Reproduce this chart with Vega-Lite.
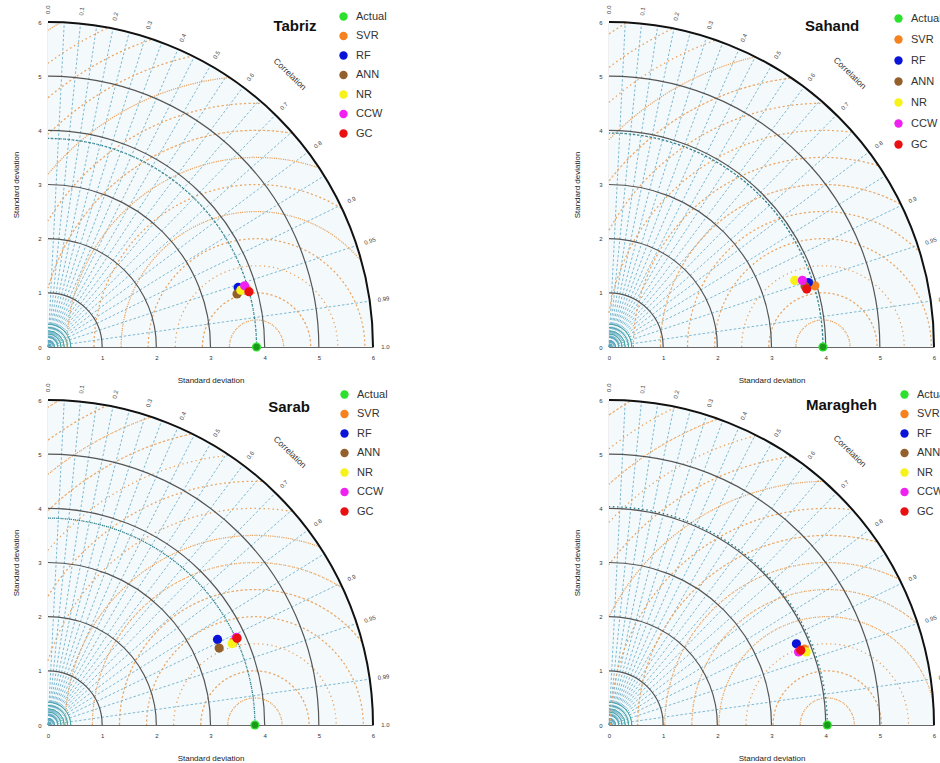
{
"$schema": "https://vega.github.io/schema/vega-lite/v6.json",
"background": "white",
"padding": {"left": 12, "top": 5, "right": 0, "bottom": 0},
"columns": 2,
"spacing": {"row": 53, "column": 236},
"bounds": "flush",
"resolve": {"scale": {"color": "independent"}, "legend": {"color": "independent"}},
"datasets": {
"origin6": [{"cx":0,"cy":0,"r":6}],
"sdArcs": [{"cx":0,"cy":0,"r":1},{"cx":0,"cy":0,"r":2},{"cx":0,"cy":0,"r":3},{"cx":0,"cy":0,"r":4},{"cx":0,"cy":0,"r":5}],
"tealArcs": [{"cx":0,"cy":0,"r":0.06},{"cx":0,"cy":0,"r":0.12},{"cx":0,"cy":0,"r":0.18},{"cx":0,"cy":0,"r":0.24},{"cx":0,"cy":0,"r":0.3},{"cx":0,"cy":0,"r":0.36},{"cx":0,"cy":0,"r":0.42}],
"rays": [
{"x1":0,"y1":0,"x2":0.3,"y2":5.9925},{"x1":0,"y1":0,"x2":0.6,"y2":5.9699},{"x1":0,"y1":0,"x2":0.9,"y2":5.9321},{"x1":0,"y1":0,"x2":1.2,"y2":5.8788},
{"x1":0,"y1":0,"x2":1.5,"y2":5.8095},{"x1":0,"y1":0,"x2":1.8,"y2":5.7236},{"x1":0,"y1":0,"x2":2.1,"y2":5.6205},{"x1":0,"y1":0,"x2":2.4,"y2":5.4991},
{"x1":0,"y1":0,"x2":2.7,"y2":5.3582},{"x1":0,"y1":0,"x2":3.0,"y2":5.1962},{"x1":0,"y1":0,"x2":3.3,"y2":5.011},{"x1":0,"y1":0,"x2":3.6,"y2":4.8},
{"x1":0,"y1":0,"x2":3.9,"y2":4.5596},{"x1":0,"y1":0,"x2":4.2,"y2":4.2849},{"x1":0,"y1":0,"x2":4.5,"y2":3.9686},{"x1":0,"y1":0,"x2":4.8,"y2":3.6},
{"x1":0,"y1":0,"x2":5.1,"y2":3.1607},{"x1":0,"y1":0,"x2":5.4,"y2":2.6153},{"x1":0,"y1":0,"x2":5.7,"y2":1.8735},{"x1":0,"y1":0,"x2":5.94,"y2":0.8464}
],
"corrLabels": [
{"label":"0.0","x":0,"y":6.15,"phi":90},{"label":"0.1","x":0.615,"y":6.1192,"phi":84.26},{"label":"0.2","x":1.23,"y":6.0258,"phi":78.46},
{"label":"0.3","x":1.845,"y":5.8667,"phi":72.54},{"label":"0.4","x":2.46,"y":5.6366,"phi":66.42},{"label":"0.5","x":3.075,"y":5.3261,"phi":60},
{"label":"0.6","x":3.69,"y":4.92,"phi":53.13},{"label":"0.7","x":4.305,"y":4.392,"phi":45.57},{"label":"0.8","x":4.92,"y":3.69,"phi":36.87},
{"label":"0.9","x":5.535,"y":2.6807,"phi":25.84},{"label":"0.95","x":5.8425,"y":1.9203,"phi":18.19},{"label":"0.99","x":6.0885,"y":0.8676,"phi":8.11},
{"label":"1.0","x":6.15,"y":0,"phi":0}
],
"refArcs": [
{"station":"Tabriz","cx":0,"cy":0,"r":3.85},{"station":"Sahand","cx":0,"cy":0,"r":3.95},
{"station":"Sarab","cx":0,"cy":0,"r":3.82},{"station":"Maragheh","cx":0,"cy":0,"r":4.03}
],
"annot": [
{"station":"Tabriz","kind":"title","t":"Tabriz","x":4.56,"y":5.92},
{"station":"Sahand","kind":"title","t":"Sahand","x":4.12,"y":5.93},
{"station":"Sarab","kind":"title","t":"Sarab","x":4.45,"y":5.87},
{"station":"Maragheh","kind":"title","t":"Maragheh","x":4.29,"y":5.91},
{"station":"Tabriz","kind":"corr","t":"Correlation","x":4.47,"y":5.04},
{"station":"Sahand","kind":"corr","t":"Correlation","x":4.45,"y":5.06},
{"station":"Sarab","kind":"corr","t":"Correlation","x":4.47,"y":5.04},
{"station":"Maragheh","kind":"corr","t":"Correlation","x":4.45,"y":5.06}
],
"rms": [
{"station":"Tabriz","cx":3.85,"cy":0,"r":0.5,"t1":-90,"t2":90},{"station":"Tabriz","cx":3.85,"cy":0,"r":1,"t1":-90,"t2":90},
{"station":"Tabriz","cx":3.85,"cy":0,"r":1.5,"t1":-90,"t2":90},{"station":"Tabriz","cx":3.85,"cy":0,"r":2,"t1":-90,"t2":90},
{"station":"Tabriz","cx":3.85,"cy":0,"r":2.5,"t1":-90,"t2":50.86},{"station":"Tabriz","cx":3.85,"cy":0,"r":3,"t1":-90,"t2":31.81},
{"station":"Tabriz","cx":3.85,"cy":0,"r":3.5,"t1":-90,"t2":19.35},{"station":"Tabriz","cx":3.85,"cy":0,"r":4,"t1":-74.22,"t2":9.68},
{"station":"Tabriz","cx":3.85,"cy":0,"r":4.5,"t1":-58.83,"t2":1.53},{"station":"Tabriz","cx":3.85,"cy":0,"r":5,"t1":-50.35,"t2":-5.7},
{"station":"Tabriz","cx":3.85,"cy":0,"r":5.5,"t1":-44.43,"t2":-12.37},{"station":"Tabriz","cx":3.85,"cy":0,"r":6,"t1":-39.92,"t2":-18.71},
{"station":"Tabriz","cx":3.85,"cy":0,"r":6.5,"t1":-36.32,"t2":-24.9},{"station":"Tabriz","cx":3.85,"cy":0,"r":7,"t1":-33.37,"t2":-31.08},
{"station":"Sahand","cx":3.95,"cy":0,"r":0.5,"t1":-90,"t2":90},{"station":"Sahand","cx":3.95,"cy":0,"r":1,"t1":-90,"t2":90},
{"station":"Sahand","cx":3.95,"cy":0,"r":1.5,"t1":-90,"t2":90},{"station":"Sahand","cx":3.95,"cy":0,"r":2,"t1":-90,"t2":90},
{"station":"Sahand","cx":3.95,"cy":0,"r":2.5,"t1":-90,"t2":45.75},{"station":"Sahand","cx":3.95,"cy":0,"r":3,"t1":-90,"t2":28.74},
{"station":"Sahand","cx":3.95,"cy":0,"r":3.5,"t1":-90,"t2":17.14},{"station":"Sahand","cx":3.95,"cy":0,"r":4,"t1":-80.93,"t2":8.0},
{"station":"Sahand","cx":3.95,"cy":0,"r":4.5,"t1":-61.37,"t2":0.24},{"station":"Sahand","cx":3.95,"cy":0,"r":5,"t1":-52.19,"t2":-6.69},
{"station":"Sahand","cx":3.95,"cy":0,"r":5.5,"t1":-45.9,"t2":-13.11},{"station":"Sahand","cx":3.95,"cy":0,"r":6,"t1":-41.17,"t2":-19.22},
{"station":"Sahand","cx":3.95,"cy":0,"r":6.5,"t1":-37.42,"t2":-25.19},{"station":"Sahand","cx":3.95,"cy":0,"r":7,"t1":-34.35,"t2":-31.14},
{"station":"Sarab","cx":3.82,"cy":0,"r":0.5,"t1":-90,"t2":90},{"station":"Sarab","cx":3.82,"cy":0,"r":1,"t1":-90,"t2":90},
{"station":"Sarab","cx":3.82,"cy":0,"r":1.5,"t1":-90,"t2":90},{"station":"Sarab","cx":3.82,"cy":0,"r":2,"t1":-90,"t2":90},
{"station":"Sarab","cx":3.82,"cy":0,"r":2.5,"t1":-90,"t2":52.52},{"station":"Sarab","cx":3.82,"cy":0,"r":3,"t1":-90,"t2":32.77},
{"station":"Sarab","cx":3.82,"cy":0,"r":3.5,"t1":-90,"t2":20.03},{"station":"Sarab","cx":3.82,"cy":0,"r":4,"t1":-72.75,"t2":10.19},
{"station":"Sarab","cx":3.82,"cy":0,"r":4.5,"t1":-58.09,"t2":1.93},{"station":"Sarab","cx":3.82,"cy":0,"r":5,"t1":-49.82,"t2":-5.4},
{"station":"Sarab","cx":3.82,"cy":0,"r":5.5,"t1":-43.99,"t2":-12.15},{"station":"Sarab","cx":3.82,"cy":0,"r":6,"t1":-39.54,"t2":-18.56},
{"station":"Sarab","cx":3.82,"cy":0,"r":6.5,"t1":-35.99,"t2":-24.82},{"station":"Sarab","cx":3.82,"cy":0,"r":7,"t1":-33.07,"t2":-31.06},
{"station":"Maragheh","cx":4.03,"cy":0,"r":0.5,"t1":-90,"t2":90},{"station":"Maragheh","cx":4.03,"cy":0,"r":1,"t1":-90,"t2":90},
{"station":"Maragheh","cx":4.03,"cy":0,"r":1.5,"t1":-90,"t2":90},{"station":"Maragheh","cx":4.03,"cy":0,"r":2,"t1":-90,"t2":77.85},
{"station":"Maragheh","cx":4.03,"cy":0,"r":2.5,"t1":-90,"t2":42.1},{"station":"Maragheh","cx":4.03,"cy":0,"r":3,"t1":-90,"t2":26.42},
{"station":"Maragheh","cx":4.03,"cy":0,"r":3.5,"t1":-90,"t2":15.44},{"station":"Maragheh","cx":4.03,"cy":0,"r":4,"t1":-90,"t2":6.7},
{"station":"Maragheh","cx":4.03,"cy":0,"r":4.5,"t1":-63.59,"t2":-0.78},{"station":"Maragheh","cx":4.03,"cy":0,"r":5,"t1":-53.71,"t2":-7.47},
{"station":"Maragheh","cx":4.03,"cy":0,"r":5.5,"t1":-47.12,"t2":-13.69},{"station":"Maragheh","cx":4.03,"cy":0,"r":6,"t1":-42.2,"t2":-19.62},
{"station":"Maragheh","cx":4.03,"cy":0,"r":6.5,"t1":-38.32,"t2":-25.42},{"station":"Maragheh","cx":4.03,"cy":0,"r":7,"t1":-35.15,"t2":-31.22}
],
"pts": [
{"station":"Tabriz","model":"Actual","x":3.85,"y":0},
{"station":"Tabriz","model":"SVR","x":3.67,"y":1.07},
{"station":"Tabriz","model":"RF","x":3.51,"y":1.1},
{"station":"Tabriz","model":"ANN","x":3.49,"y":0.98},
{"station":"Tabriz","model":"NR","x":3.56,"y":1.05},
{"station":"Tabriz","model":"CCW","x":3.63,"y":1.13},
{"station":"Tabriz","model":"GC","x":3.71,"y":1.02},
{"station":"Sahand","model":"Actual","x":3.95,"y":0},
{"station":"Sahand","model":"SVR","x":3.8,"y":1.13},
{"station":"Sahand","model":"RF","x":3.68,"y":1.19},
{"station":"Sahand","model":"ANN","x":3.62,"y":1.12},
{"station":"Sahand","model":"NR","x":3.43,"y":1.23},
{"station":"Sahand","model":"CCW","x":3.57,"y":1.23},
{"station":"Sahand","model":"GC","x":3.65,"y":1.07},
{"station":"Sarab","model":"Actual","x":3.82,"y":0},
{"station":"Sarab","model":"SVR","x":3.43,"y":1.54},
{"station":"Sarab","model":"RF","x":3.13,"y":1.58},
{"station":"Sarab","model":"ANN","x":3.16,"y":1.42},
{"station":"Sarab","model":"NR","x":3.4,"y":1.5},
{"station":"Sarab","model":"CCW","x":3.48,"y":1.62},
{"station":"Sarab","model":"GC","x":3.49,"y":1.6},
{"station":"Maragheh","model":"Actual","x":4.03,"y":0},
{"station":"Maragheh","model":"SVR","x":3.61,"y":1.4},
{"station":"Maragheh","model":"RF","x":3.46,"y":1.5},
{"station":"Maragheh","model":"ANN","x":3.55,"y":1.38},
{"station":"Maragheh","model":"NR","x":3.64,"y":1.35},
{"station":"Maragheh","model":"CCW","x":3.5,"y":1.35},
{"station":"Maragheh","model":"GC","x":3.54,"y":1.38}
]
},
"concat": [
{
"width": 325, "height": 325,
"layer": [
{"data":{"name":"origin6"},"mark":{"type":"arc","theta":0,"theta2":1.5707963,"fill":"#f4fafc","strokeWidth":0},
 "encoding":{"x":{"field":"cx","type":"quantitative","title":"Standard deviation","scale":{"domain":[0,6],"nice":false,"zero":true},"axis":{"values":[0,1,2,3,4,5,6],"format":"d"}},
 "y":{"field":"cy","type":"quantitative","title":"Standard deviation","scale":{"domain":[0,6],"nice":false,"zero":true},"axis":{"values":[0,1,2,3,4,5,6],"format":"d"}},
 "radius":{"field":"r","type":"quantitative","stack":null,"scale":{"type":"linear","domain":[0,6],"range":[0,325],"nice":false,"zero":true}}}},
{"data":{"name":"tealArcs"},"mark":{"type":"arc","theta":0,"theta2":1.5707963,"fill":"transparent","stroke":"#3aa39c","strokeWidth":0.8},
 "encoding":{"x":{"field":"cx","type":"quantitative","title":"Standard deviation"},"y":{"field":"cy","type":"quantitative","title":"Standard deviation"},"radius":{"field":"r","type":"quantitative","stack":null},"radius2":{"field":"r"}}},
{"data":{"name":"rays"},"mark":{"type":"rule","stroke":"#5ea6c4","strokeWidth":0.8,"strokeDash":[2.5,2]},
 "encoding":{"x":{"field":"x1","type":"quantitative","title":"Standard deviation"},"y":{"field":"y1","type":"quantitative","title":"Standard deviation"},"x2":{"field":"x2"},"y2":{"field":"y2"}}},
{"data":{"name":"rms"},"transform":[{"filter":"datum.station === 'Tabriz'"}],"mark":{"type":"arc","fill":"transparent","stroke":"#e9a462","strokeWidth":1.25,"strokeDash":[1.2,3.3]},
 "encoding":{"x":{"field":"cx","type":"quantitative","title":"Standard deviation"},"y":{"field":"cy","type":"quantitative","title":"Standard deviation"},"radius":{"field":"r","type":"quantitative","stack":null},"radius2":{"field":"r"},
 "theta":{"field":"t1","type":"quantitative","stack":null,"scale":{"type":"linear","domain":[0,360],"range":[0,6.283185307]}},"theta2":{"field":"t2"}}},
{"data":{"name":"sdArcs"},"mark":{"type":"arc","theta":0,"theta2":1.5707963,"fill":"transparent","stroke":"#555555","strokeWidth":1.2},
 "encoding":{"x":{"field":"cx","type":"quantitative","title":"Standard deviation"},"y":{"field":"cy","type":"quantitative","title":"Standard deviation"},"radius":{"field":"r","type":"quantitative","stack":null},"radius2":{"field":"r"}}},
{"data":{"name":"refArcs"},"transform":[{"filter":"datum.station === 'Tabriz'"}],"mark":{"type":"arc","theta":0,"theta2":1.5707963,"fill":"transparent","stroke":"#2a7d8a","strokeWidth":1.3,"strokeDash":[1.2,3]},
 "encoding":{"x":{"field":"cx","type":"quantitative","title":"Standard deviation"},"y":{"field":"cy","type":"quantitative","title":"Standard deviation"},"radius":{"field":"r","type":"quantitative","stack":null},"radius2":{"field":"r"}}},
{"data":{"name":"origin6"},"mark":{"type":"arc","theta":0,"theta2":1.5707963,"fill":"transparent","stroke":"#111111","strokeWidth":2},
 "encoding":{"x":{"field":"cx","type":"quantitative","title":"Standard deviation"},"y":{"field":"cy","type":"quantitative","title":"Standard deviation"},"radius":{"field":"r","type":"quantitative","stack":null},"radius2":{"field":"r"}}},
{"data":{"name":"corrLabels"},"mark":{"type":"text","align":"left","baseline":"middle","fontSize":6,"color":"#444444"},
 "encoding":{"x":{"field":"x","type":"quantitative","title":"Standard deviation"},"y":{"field":"y","type":"quantitative","title":"Standard deviation"},"text":{"field":"label","type":"nominal"},
 "angle":{"field":"phi","type":"quantitative","scale":{"type":"linear","domain":[0,90],"range":[0,-90]},"legend":null}}},
{"data":{"name":"annot"},"transform":[{"filter":"datum.station === 'Tabriz' && datum.kind === 'corr'"}],"mark":{"type":"text","angle":44,"fontSize":8.5,"color":"#333333"},
 "encoding":{"x":{"field":"x","type":"quantitative","title":"Standard deviation"},"y":{"field":"y","type":"quantitative","title":"Standard deviation"},"text":{"field":"t","type":"nominal"}}},
{"data":{"name":"annot"},"transform":[{"filter":"datum.station === 'Tabriz' && datum.kind === 'title'"}],"mark":{"type":"text","fontSize":15,"fontWeight":"bold","color":"#111111"},
 "encoding":{"x":{"field":"x","type":"quantitative","title":"Standard deviation"},"y":{"field":"y","type":"quantitative","title":"Standard deviation"},"text":{"field":"t","type":"nominal"}}},
{"data":{"name":"pts"},"transform":[{"filter":"datum.station === 'Tabriz'"}],"mark":{"type":"point","filled":true,"opacity":1,"size":85},
 "encoding":{"x":{"field":"x","type":"quantitative","title":"Standard deviation"},"y":{"field":"y","type":"quantitative","title":"Standard deviation"},
 "color":{"field":"model","type":"nominal","scale":{"domain":["Actual","SVR","RF","ANN","NR","CCW","GC"],"range":["#2ee02e","#f5821f","#0a14d8","#93602b","#f6f21a","#f020f0","#e81010"]},
 "legend":{"orient":"none","legendX":290,"legendY":-11,"title":null,"rowPadding":7.5}}}},
{"data":{"name":"pts"},"transform":[{"filter":"datum.station === 'Tabriz' && datum.model === 'Actual'"}],"mark":{"type":"point","filled":true,"opacity":1,"size":40,"color":"#1b991b"},
 "encoding":{"x":{"field":"x","type":"quantitative","title":"Standard deviation"},"y":{"field":"y","type":"quantitative","title":"Standard deviation"}}}
]
},
{
"width": 325, "height": 325,
"layer": [
{"data":{"name":"origin6"},"mark":{"type":"arc","theta":0,"theta2":1.5707963,"fill":"#f4fafc","strokeWidth":0},
 "encoding":{"x":{"field":"cx","type":"quantitative","title":"Standard deviation","scale":{"domain":[0,6],"nice":false,"zero":true},"axis":{"values":[0,1,2,3,4,5,6],"format":"d"}},
 "y":{"field":"cy","type":"quantitative","title":"Standard deviation","scale":{"domain":[0,6],"nice":false,"zero":true},"axis":{"values":[0,1,2,3,4,5,6],"format":"d"}},
 "radius":{"field":"r","type":"quantitative","stack":null,"scale":{"type":"linear","domain":[0,6],"range":[0,325],"nice":false,"zero":true}}}},
{"data":{"name":"tealArcs"},"mark":{"type":"arc","theta":0,"theta2":1.5707963,"fill":"transparent","stroke":"#3aa39c","strokeWidth":0.8},
 "encoding":{"x":{"field":"cx","type":"quantitative","title":"Standard deviation"},"y":{"field":"cy","type":"quantitative","title":"Standard deviation"},"radius":{"field":"r","type":"quantitative","stack":null},"radius2":{"field":"r"}}},
{"data":{"name":"rays"},"mark":{"type":"rule","stroke":"#5ea6c4","strokeWidth":0.8,"strokeDash":[2.5,2]},
 "encoding":{"x":{"field":"x1","type":"quantitative","title":"Standard deviation"},"y":{"field":"y1","type":"quantitative","title":"Standard deviation"},"x2":{"field":"x2"},"y2":{"field":"y2"}}},
{"data":{"name":"rms"},"transform":[{"filter":"datum.station === 'Sahand'"}],"mark":{"type":"arc","fill":"transparent","stroke":"#e9a462","strokeWidth":1.25,"strokeDash":[1.2,3.3]},
 "encoding":{"x":{"field":"cx","type":"quantitative","title":"Standard deviation"},"y":{"field":"cy","type":"quantitative","title":"Standard deviation"},"radius":{"field":"r","type":"quantitative","stack":null},"radius2":{"field":"r"},
 "theta":{"field":"t1","type":"quantitative","stack":null,"scale":{"type":"linear","domain":[0,360],"range":[0,6.283185307]}},"theta2":{"field":"t2"}}},
{"data":{"name":"sdArcs"},"mark":{"type":"arc","theta":0,"theta2":1.5707963,"fill":"transparent","stroke":"#555555","strokeWidth":1.2},
 "encoding":{"x":{"field":"cx","type":"quantitative","title":"Standard deviation"},"y":{"field":"cy","type":"quantitative","title":"Standard deviation"},"radius":{"field":"r","type":"quantitative","stack":null},"radius2":{"field":"r"}}},
{"data":{"name":"refArcs"},"transform":[{"filter":"datum.station === 'Sahand'"}],"mark":{"type":"arc","theta":0,"theta2":1.5707963,"fill":"transparent","stroke":"#2a7d8a","strokeWidth":1.3,"strokeDash":[1.2,3]},
 "encoding":{"x":{"field":"cx","type":"quantitative","title":"Standard deviation"},"y":{"field":"cy","type":"quantitative","title":"Standard deviation"},"radius":{"field":"r","type":"quantitative","stack":null},"radius2":{"field":"r"}}},
{"data":{"name":"origin6"},"mark":{"type":"arc","theta":0,"theta2":1.5707963,"fill":"transparent","stroke":"#111111","strokeWidth":2},
 "encoding":{"x":{"field":"cx","type":"quantitative","title":"Standard deviation"},"y":{"field":"cy","type":"quantitative","title":"Standard deviation"},"radius":{"field":"r","type":"quantitative","stack":null},"radius2":{"field":"r"}}},
{"data":{"name":"corrLabels"},"mark":{"type":"text","align":"left","baseline":"middle","fontSize":6,"color":"#444444"},
 "encoding":{"x":{"field":"x","type":"quantitative","title":"Standard deviation"},"y":{"field":"y","type":"quantitative","title":"Standard deviation"},"text":{"field":"label","type":"nominal"},
 "angle":{"field":"phi","type":"quantitative","scale":{"type":"linear","domain":[0,90],"range":[0,-90]},"legend":null}}},
{"data":{"name":"annot"},"transform":[{"filter":"datum.station === 'Sahand' && datum.kind === 'corr'"}],"mark":{"type":"text","angle":44,"fontSize":8.5,"color":"#333333"},
 "encoding":{"x":{"field":"x","type":"quantitative","title":"Standard deviation"},"y":{"field":"y","type":"quantitative","title":"Standard deviation"},"text":{"field":"t","type":"nominal"}}},
{"data":{"name":"annot"},"transform":[{"filter":"datum.station === 'Sahand' && datum.kind === 'title'"}],"mark":{"type":"text","fontSize":15,"fontWeight":"bold","color":"#111111"},
 "encoding":{"x":{"field":"x","type":"quantitative","title":"Standard deviation"},"y":{"field":"y","type":"quantitative","title":"Standard deviation"},"text":{"field":"t","type":"nominal"}}},
{"data":{"name":"pts"},"transform":[{"filter":"datum.station === 'Sahand'"}],"mark":{"type":"point","filled":true,"opacity":1,"size":85},
 "encoding":{"x":{"field":"x","type":"quantitative","title":"Standard deviation"},"y":{"field":"y","type":"quantitative","title":"Standard deviation"},
 "color":{"field":"model","type":"nominal","scale":{"domain":["Actual","SVR","RF","ANN","NR","CCW","GC"],"range":["#2ee02e","#f5821f","#0a14d8","#93602b","#f6f21a","#f020f0","#e81010"]},
 "legend":{"orient":"none","legendX":284,"legendY":-9,"title":null,"rowPadding":9}}}},
{"data":{"name":"pts"},"transform":[{"filter":"datum.station === 'Sahand' && datum.model === 'Actual'"}],"mark":{"type":"point","filled":true,"opacity":1,"size":40,"color":"#1b991b"},
 "encoding":{"x":{"field":"x","type":"quantitative","title":"Standard deviation"},"y":{"field":"y","type":"quantitative","title":"Standard deviation"}}}
]
},
{
"width": 325, "height": 325,
"layer": [
{"data":{"name":"origin6"},"mark":{"type":"arc","theta":0,"theta2":1.5707963,"fill":"#f4fafc","strokeWidth":0},
 "encoding":{"x":{"field":"cx","type":"quantitative","title":"Standard deviation","scale":{"domain":[0,6],"nice":false,"zero":true},"axis":{"values":[0,1,2,3,4,5,6],"format":"d"}},
 "y":{"field":"cy","type":"quantitative","title":"Standard deviation","scale":{"domain":[0,6],"nice":false,"zero":true},"axis":{"values":[0,1,2,3,4,5,6],"format":"d"}},
 "radius":{"field":"r","type":"quantitative","stack":null,"scale":{"type":"linear","domain":[0,6],"range":[0,325],"nice":false,"zero":true}}}},
{"data":{"name":"tealArcs"},"mark":{"type":"arc","theta":0,"theta2":1.5707963,"fill":"transparent","stroke":"#3aa39c","strokeWidth":0.8},
 "encoding":{"x":{"field":"cx","type":"quantitative","title":"Standard deviation"},"y":{"field":"cy","type":"quantitative","title":"Standard deviation"},"radius":{"field":"r","type":"quantitative","stack":null},"radius2":{"field":"r"}}},
{"data":{"name":"rays"},"mark":{"type":"rule","stroke":"#5ea6c4","strokeWidth":0.8,"strokeDash":[2.5,2]},
 "encoding":{"x":{"field":"x1","type":"quantitative","title":"Standard deviation"},"y":{"field":"y1","type":"quantitative","title":"Standard deviation"},"x2":{"field":"x2"},"y2":{"field":"y2"}}},
{"data":{"name":"rms"},"transform":[{"filter":"datum.station === 'Sarab'"}],"mark":{"type":"arc","fill":"transparent","stroke":"#e9a462","strokeWidth":1.25,"strokeDash":[1.2,3.3]},
 "encoding":{"x":{"field":"cx","type":"quantitative","title":"Standard deviation"},"y":{"field":"cy","type":"quantitative","title":"Standard deviation"},"radius":{"field":"r","type":"quantitative","stack":null},"radius2":{"field":"r"},
 "theta":{"field":"t1","type":"quantitative","stack":null,"scale":{"type":"linear","domain":[0,360],"range":[0,6.283185307]}},"theta2":{"field":"t2"}}},
{"data":{"name":"sdArcs"},"mark":{"type":"arc","theta":0,"theta2":1.5707963,"fill":"transparent","stroke":"#555555","strokeWidth":1.2},
 "encoding":{"x":{"field":"cx","type":"quantitative","title":"Standard deviation"},"y":{"field":"cy","type":"quantitative","title":"Standard deviation"},"radius":{"field":"r","type":"quantitative","stack":null},"radius2":{"field":"r"}}},
{"data":{"name":"refArcs"},"transform":[{"filter":"datum.station === 'Sarab'"}],"mark":{"type":"arc","theta":0,"theta2":1.5707963,"fill":"transparent","stroke":"#2a7d8a","strokeWidth":1.3,"strokeDash":[1.2,3]},
 "encoding":{"x":{"field":"cx","type":"quantitative","title":"Standard deviation"},"y":{"field":"cy","type":"quantitative","title":"Standard deviation"},"radius":{"field":"r","type":"quantitative","stack":null},"radius2":{"field":"r"}}},
{"data":{"name":"origin6"},"mark":{"type":"arc","theta":0,"theta2":1.5707963,"fill":"transparent","stroke":"#111111","strokeWidth":2},
 "encoding":{"x":{"field":"cx","type":"quantitative","title":"Standard deviation"},"y":{"field":"cy","type":"quantitative","title":"Standard deviation"},"radius":{"field":"r","type":"quantitative","stack":null},"radius2":{"field":"r"}}},
{"data":{"name":"corrLabels"},"mark":{"type":"text","align":"left","baseline":"middle","fontSize":6,"color":"#444444"},
 "encoding":{"x":{"field":"x","type":"quantitative","title":"Standard deviation"},"y":{"field":"y","type":"quantitative","title":"Standard deviation"},"text":{"field":"label","type":"nominal"},
 "angle":{"field":"phi","type":"quantitative","scale":{"type":"linear","domain":[0,90],"range":[0,-90]},"legend":null}}},
{"data":{"name":"annot"},"transform":[{"filter":"datum.station === 'Sarab' && datum.kind === 'corr'"}],"mark":{"type":"text","angle":44,"fontSize":8.5,"color":"#333333"},
 "encoding":{"x":{"field":"x","type":"quantitative","title":"Standard deviation"},"y":{"field":"y","type":"quantitative","title":"Standard deviation"},"text":{"field":"t","type":"nominal"}}},
{"data":{"name":"annot"},"transform":[{"filter":"datum.station === 'Sarab' && datum.kind === 'title'"}],"mark":{"type":"text","fontSize":15,"fontWeight":"bold","color":"#111111"},
 "encoding":{"x":{"field":"x","type":"quantitative","title":"Standard deviation"},"y":{"field":"y","type":"quantitative","title":"Standard deviation"},"text":{"field":"t","type":"nominal"}}},
{"data":{"name":"pts"},"transform":[{"filter":"datum.station === 'Sarab'"}],"mark":{"type":"point","filled":true,"opacity":1,"size":85},
 "encoding":{"x":{"field":"x","type":"quantitative","title":"Standard deviation"},"y":{"field":"y","type":"quantitative","title":"Standard deviation"},
 "color":{"field":"model","type":"nominal","scale":{"domain":["Actual","SVR","RF","ANN","NR","CCW","GC"],"range":["#2ee02e","#f5821f","#0a14d8","#93602b","#f6f21a","#f020f0","#e81010"]},
 "legend":{"orient":"none","legendX":291,"legendY":-11,"title":null,"rowPadding":7.5}}}},
{"data":{"name":"pts"},"transform":[{"filter":"datum.station === 'Sarab' && datum.model === 'Actual'"}],"mark":{"type":"point","filled":true,"opacity":1,"size":40,"color":"#1b991b"},
 "encoding":{"x":{"field":"x","type":"quantitative","title":"Standard deviation"},"y":{"field":"y","type":"quantitative","title":"Standard deviation"}}}
]
},
{
"width": 325, "height": 325,
"layer": [
{"data":{"name":"origin6"},"mark":{"type":"arc","theta":0,"theta2":1.5707963,"fill":"#f4fafc","strokeWidth":0},
 "encoding":{"x":{"field":"cx","type":"quantitative","title":"Standard deviation","scale":{"domain":[0,6],"nice":false,"zero":true},"axis":{"values":[0,1,2,3,4,5,6],"format":"d"}},
 "y":{"field":"cy","type":"quantitative","title":"Standard deviation","scale":{"domain":[0,6],"nice":false,"zero":true},"axis":{"values":[0,1,2,3,4,5,6],"format":"d"}},
 "radius":{"field":"r","type":"quantitative","stack":null,"scale":{"type":"linear","domain":[0,6],"range":[0,325],"nice":false,"zero":true}}}},
{"data":{"name":"tealArcs"},"mark":{"type":"arc","theta":0,"theta2":1.5707963,"fill":"transparent","stroke":"#3aa39c","strokeWidth":0.8},
 "encoding":{"x":{"field":"cx","type":"quantitative","title":"Standard deviation"},"y":{"field":"cy","type":"quantitative","title":"Standard deviation"},"radius":{"field":"r","type":"quantitative","stack":null},"radius2":{"field":"r"}}},
{"data":{"name":"rays"},"mark":{"type":"rule","stroke":"#5ea6c4","strokeWidth":0.8,"strokeDash":[2.5,2]},
 "encoding":{"x":{"field":"x1","type":"quantitative","title":"Standard deviation"},"y":{"field":"y1","type":"quantitative","title":"Standard deviation"},"x2":{"field":"x2"},"y2":{"field":"y2"}}},
{"data":{"name":"rms"},"transform":[{"filter":"datum.station === 'Maragheh'"}],"mark":{"type":"arc","fill":"transparent","stroke":"#e9a462","strokeWidth":1.25,"strokeDash":[1.2,3.3]},
 "encoding":{"x":{"field":"cx","type":"quantitative","title":"Standard deviation"},"y":{"field":"cy","type":"quantitative","title":"Standard deviation"},"radius":{"field":"r","type":"quantitative","stack":null},"radius2":{"field":"r"},
 "theta":{"field":"t1","type":"quantitative","stack":null,"scale":{"type":"linear","domain":[0,360],"range":[0,6.283185307]}},"theta2":{"field":"t2"}}},
{"data":{"name":"sdArcs"},"mark":{"type":"arc","theta":0,"theta2":1.5707963,"fill":"transparent","stroke":"#555555","strokeWidth":1.2},
 "encoding":{"x":{"field":"cx","type":"quantitative","title":"Standard deviation"},"y":{"field":"cy","type":"quantitative","title":"Standard deviation"},"radius":{"field":"r","type":"quantitative","stack":null},"radius2":{"field":"r"}}},
{"data":{"name":"refArcs"},"transform":[{"filter":"datum.station === 'Maragheh'"}],"mark":{"type":"arc","theta":0,"theta2":1.5707963,"fill":"transparent","stroke":"#2a7d8a","strokeWidth":1.3,"strokeDash":[1.2,3]},
 "encoding":{"x":{"field":"cx","type":"quantitative","title":"Standard deviation"},"y":{"field":"cy","type":"quantitative","title":"Standard deviation"},"radius":{"field":"r","type":"quantitative","stack":null},"radius2":{"field":"r"}}},
{"data":{"name":"origin6"},"mark":{"type":"arc","theta":0,"theta2":1.5707963,"fill":"transparent","stroke":"#111111","strokeWidth":2},
 "encoding":{"x":{"field":"cx","type":"quantitative","title":"Standard deviation"},"y":{"field":"cy","type":"quantitative","title":"Standard deviation"},"radius":{"field":"r","type":"quantitative","stack":null},"radius2":{"field":"r"}}},
{"data":{"name":"corrLabels"},"mark":{"type":"text","align":"left","baseline":"middle","fontSize":6,"color":"#444444"},
 "encoding":{"x":{"field":"x","type":"quantitative","title":"Standard deviation"},"y":{"field":"y","type":"quantitative","title":"Standard deviation"},"text":{"field":"label","type":"nominal"},
 "angle":{"field":"phi","type":"quantitative","scale":{"type":"linear","domain":[0,90],"range":[0,-90]},"legend":null}}},
{"data":{"name":"annot"},"transform":[{"filter":"datum.station === 'Maragheh' && datum.kind === 'corr'"}],"mark":{"type":"text","angle":44,"fontSize":8.5,"color":"#333333"},
 "encoding":{"x":{"field":"x","type":"quantitative","title":"Standard deviation"},"y":{"field":"y","type":"quantitative","title":"Standard deviation"},"text":{"field":"t","type":"nominal"}}},
{"data":{"name":"annot"},"transform":[{"filter":"datum.station === 'Maragheh' && datum.kind === 'title'"}],"mark":{"type":"text","fontSize":15,"fontWeight":"bold","color":"#111111"},
 "encoding":{"x":{"field":"x","type":"quantitative","title":"Standard deviation"},"y":{"field":"y","type":"quantitative","title":"Standard deviation"},"text":{"field":"t","type":"nominal"}}},
{"data":{"name":"pts"},"transform":[{"filter":"datum.station === 'Maragheh'"}],"mark":{"type":"point","filled":true,"opacity":1,"size":85},
 "encoding":{"x":{"field":"x","type":"quantitative","title":"Standard deviation"},"y":{"field":"y","type":"quantitative","title":"Standard deviation"},
 "color":{"field":"model","type":"nominal","scale":{"domain":["Actual","SVR","RF","ANN","NR","CCW","GC"],"range":["#2ee02e","#f5821f","#0a14d8","#93602b","#f6f21a","#f020f0","#e81010"]},
 "legend":{"orient":"none","legendX":290,"legendY":-11,"title":null,"rowPadding":7.5}}}},
{"data":{"name":"pts"},"transform":[{"filter":"datum.station === 'Maragheh' && datum.model === 'Actual'"}],"mark":{"type":"point","filled":true,"opacity":1,"size":40,"color":"#1b991b"},
 "encoding":{"x":{"field":"x","type":"quantitative","title":"Standard deviation"},"y":{"field":"y","type":"quantitative","title":"Standard deviation"}}}
]
}
],
"config": {
"view": {"stroke": null},
"font": "Liberation Sans",
"axis": {"grid": false, "ticks": false, "labelFontSize": 6, "labelColor": "#333333", "labelFlush": false,
 "titleFontSize": 8, "titleFontWeight": "normal", "titleColor": "#222222", "domainColor": "#666666", "domainWidth": 1.2},
"axisX": {"labelPadding": 7, "titlePadding": 16},
"axisY": {"labelPadding": 7, "titlePadding": 17},
"legend": {"labelFontSize": 11, "labelColor": "#333333", "symbolSize": 70, "symbolType": "circle", "labelOffset": 7, "padding": 0}
}
}
